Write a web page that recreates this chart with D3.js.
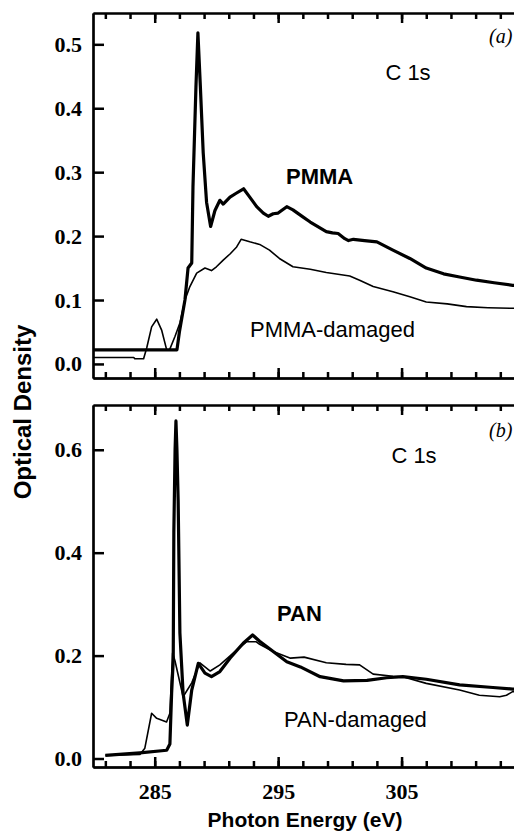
<!DOCTYPE html>
<html>
<head>
<meta charset="utf-8">
<script src="https://cdn.jsdelivr.net/npm/d3@7"></script>
</head>
<body style="margin:0">
<div id="chart"></div>
<script>
// photon energy (eV) / optical density
const pmmaEnergy = [280, 286.8, 287.0, 287.45, 287.7, 288.0, 288.1, 288.34, 288.5, 288.7, 288.93, 289.2, 289.53, 289.88, 290.28, 290.55, 291.1, 291.6, 292.2, 292.7, 293.26, 293.8, 294.2, 294.6, 295.0, 295.7, 296.2, 297.0, 297.6, 298.9, 299.4, 299.86, 300.4, 300.7, 301.1, 302.0, 303.0, 304.3, 305.67, 307.0, 308.4, 309.7, 311.07, 312.5, 314.0, 315];
const pmmaOD = [0.022, 0.022, 0.05, 0.10, 0.15, 0.158, 0.277, 0.433, 0.518, 0.433, 0.33, 0.253, 0.215, 0.24, 0.256, 0.25, 0.261, 0.267, 0.274, 0.261, 0.246, 0.236, 0.231, 0.235, 0.236, 0.246, 0.241, 0.23, 0.222, 0.207, 0.205, 0.204, 0.196, 0.193, 0.195, 0.193, 0.191, 0.178, 0.165, 0.15, 0.141, 0.136, 0.131, 0.127, 0.123, 0.121];

const pmmaDamagedEnergy = [280, 283.3, 283.4, 284.1, 284.35, 284.75, 285.16, 285.56, 285.97, 286.2, 286.64, 287.04, 287.45, 287.85, 288.4, 289.07, 289.6, 290.0, 290.55, 291.1, 291.64, 292.0, 292.7, 293.5, 294.3, 295.1, 296.2, 297.6, 298.9, 300.8, 301.6, 302.7, 304.3, 305.67, 307.0, 308.7, 310.26, 312, 314.0, 315];
const pmmaDamagedOD = [0.010, 0.010, 0.008, 0.008, 0.025, 0.058, 0.070, 0.053, 0.022, 0.022, 0.043, 0.064, 0.10, 0.121, 0.142, 0.15, 0.146, 0.152, 0.1625, 0.172, 0.183, 0.195, 0.191, 0.187, 0.178, 0.165, 0.152, 0.148, 0.143, 0.1375, 0.131, 0.121, 0.113, 0.105, 0.097, 0.094, 0.0896, 0.088, 0.087, 0.087];

const panEnergy = [281.0, 283.8, 285.97, 286.23, 286.37, 286.5, 286.55, 286.65, 286.72, 286.8, 286.9, 287.04, 287.3, 287.64, 288.0, 288.53, 289.07, 289.6, 290.28, 291.1, 292.17, 292.93, 293.5, 294.6, 295.7, 296.8, 298.4, 300.3, 302.2, 303.8, 305.1, 307.0, 309.7, 312.4, 314.0, 315];
const panOD = [0.006, 0.011, 0.016, 0.028, 0.127, 0.19, 0.44, 0.60, 0.656, 0.60, 0.50, 0.244, 0.127, 0.065, 0.133, 0.185, 0.166, 0.159, 0.169, 0.195, 0.224, 0.240, 0.228, 0.208, 0.188, 0.178, 0.159, 0.151, 0.152, 0.157, 0.159, 0.154, 0.143, 0.138, 0.135, 0.134];

const panDamagedEnergy = [281.0, 283.8, 284.2, 284.75, 285.16, 285.96, 286.23, 286.45, 286.64, 287.3, 288.0, 288.66, 289.5, 290.28, 291.36, 292.45, 293.2, 293.5, 294.6, 296.0, 297.1, 298.9, 300.5, 301.6, 302.7, 304.3, 305.1, 307.0, 309.7, 311.3, 312.95, 313.5, 314.0, 315];
const panDamagedOD = [0.006, 0.008, 0.02, 0.088, 0.078, 0.071, 0.088, 0.205, 0.19, 0.12, 0.147, 0.186, 0.17, 0.182, 0.205, 0.227, 0.227, 0.222, 0.208, 0.195, 0.197, 0.186, 0.183, 0.182, 0.164, 0.16, 0.159, 0.146, 0.133, 0.123, 0.12, 0.123, 0.13, 0.13];

const energyDomain = [280, 315];
const xMinorTicks = d3.range(281, 315, 2);
const xMajorTicks = [285, 295, 305];
const topYTicks = [0.0, 0.1, 0.2, 0.3, 0.4, 0.5];
const bottomYTicks = [0.0, 0.2, 0.4, 0.6];

const chartWidth = 514;
const chartHeight = 832;
const plotLeft = 93;
const plotRight = 525; // plot runs past the cropped right edge

const svg = d3
  .select("#chart")
  .append("svg")
  .attr("width", chartWidth)
  .attr("height", chartHeight);

const x = d3.scaleLinear().domain(energyDomain).range([plotLeft, plotRight]);

const zip = (xs, ys) => xs.map((e, i) => [e, ys[i]]);
const noLabel = () => "";

const serif = "'Liberation Serif', 'Times New Roman', serif";
const sans = "'Liberation Sans', Arial, sans-serif";

function panel({ y0, y1, yDomain, yTicks, showXLabels, curves, labels }) {
  const y = d3.scaleLinear().domain(yDomain).range([y1, y0]);
  const g = svg.append("g");

  // ticks first: each axis is flipped so its marks point into the plot
  const addAxis = (axis, transform) =>
    g.append("g").attr("transform", transform).call(axis.tickSizeOuter(0));

  addAxis(d3.axisTop(x).tickValues(xMinorTicks).tickSizeInner(6).tickFormat(noLabel), `translate(0,${y1})`);
  addAxis(d3.axisTop(x).tickValues(xMajorTicks).tickSizeInner(10).tickFormat(noLabel), `translate(0,${y1})`);
  addAxis(d3.axisBottom(x).tickValues(xMinorTicks).tickSizeInner(6).tickFormat(noLabel), `translate(0,${y0})`);
  addAxis(d3.axisBottom(x).tickValues(xMajorTicks).tickSizeInner(10).tickFormat(noLabel), `translate(0,${y0})`);
  addAxis(d3.axisRight(y).tickValues(yTicks).tickSizeInner(11).tickFormat(noLabel), `translate(${plotLeft},0)`);

  // labels
  addAxis(
    d3.axisBottom(x)
      .tickValues(xMajorTicks)
      .tickSizeInner(0)
      .tickPadding(16)
      .tickFormat(showXLabels ? d3.format("d") : noLabel),
    `translate(0,${y1})`,
  );
  addAxis(
    d3.axisLeft(y).tickValues(yTicks).tickSizeInner(0).tickPadding(11).tickFormat(d3.format(".1f")),
    `translate(${plotLeft},0)`,
  );

  g.selectAll(".domain").attr("stroke", "#000").attr("stroke-width", 2.2);
  g.selectAll(".tick line").attr("stroke", "#000").attr("stroke-width", 2.5);
  g.selectAll(".tick text")
    .attr("font-family", serif)
    .attr("font-weight", "bold")
    .attr("font-size", 22)
    .attr("fill", "#000");

  const line = d3
    .line()
    .x((d) => x(d[0]))
    .y((d) => y(d[1]));

  curves.forEach((c) => {
    g.append("path")
      .datum(zip(c.energy, c.od))
      .attr("fill", "none")
      .attr("stroke", "#000")
      .attr("stroke-width", c.width)
      .attr("stroke-linejoin", "round")
      .attr("d", line);
  });

  labels.forEach((l) => {
    g.append("text")
      .attr("x", l.x)
      .attr("y", l.y)
      .attr("text-anchor", l.anchor || "start")
      .attr("font-family", l.family || sans)
      .attr("font-weight", l.bold ? "bold" : "normal")
      .attr("font-style", l.italic ? "italic" : "normal")
      .attr("font-size", l.size || 22)
      .attr("fill", "#000")
      .text(l.text);
  });
}

panel({
  y0: 13,
  y1: 378,
  yDomain: [-0.022, 0.549],
  yTicks: topYTicks,
  showXLabels: false,
  curves: [
    { energy: pmmaDamagedEnergy, od: pmmaDamagedOD, width: 1.6 },
    { energy: pmmaEnergy, od: pmmaOD, width: 3.2 },
  ],
  labels: [
    { text: "C 1s", x: 408, y: 80, anchor: "middle" },
    { text: "PMMA", x: 286, y: 184, bold: true },
    { text: "PMMA-damaged", x: 250, y: 337 },
    { text: "(a)", x: 489, y: 43, family: serif, italic: true, size: 20 },
  ],
});

panel({
  y0: 405,
  y1: 767,
  yDomain: [-0.0165, 0.687],
  yTicks: bottomYTicks,
  showXLabels: true,
  curves: [
    { energy: panDamagedEnergy, od: panDamagedOD, width: 1.6 },
    { energy: panEnergy, od: panOD, width: 3.2 },
  ],
  labels: [
    { text: "C 1s", x: 414, y: 463, anchor: "middle" },
    { text: "PAN", x: 277, y: 621, bold: true },
    { text: "PAN-damaged", x: 284, y: 727 },
    { text: "(b)", x: 489, y: 437, family: serif, italic: true, size: 20 },
  ],
});

// shared axis titles
svg.append("text")
  .attr("transform", "translate(31,412) rotate(-90)")
  .attr("text-anchor", "middle")
  .attr("font-family", sans)
  .attr("font-weight", "bold")
  .attr("font-size", 24)
  .text("Optical Density");

svg.append("text")
  .attr("x", 305)
  .attr("y", 827)
  .attr("text-anchor", "middle")
  .attr("font-family", sans)
  .attr("font-weight", "bold")
  .attr("font-size", 21)
  .text("Photon Energy (eV)");
</script>
</body>
</html>
